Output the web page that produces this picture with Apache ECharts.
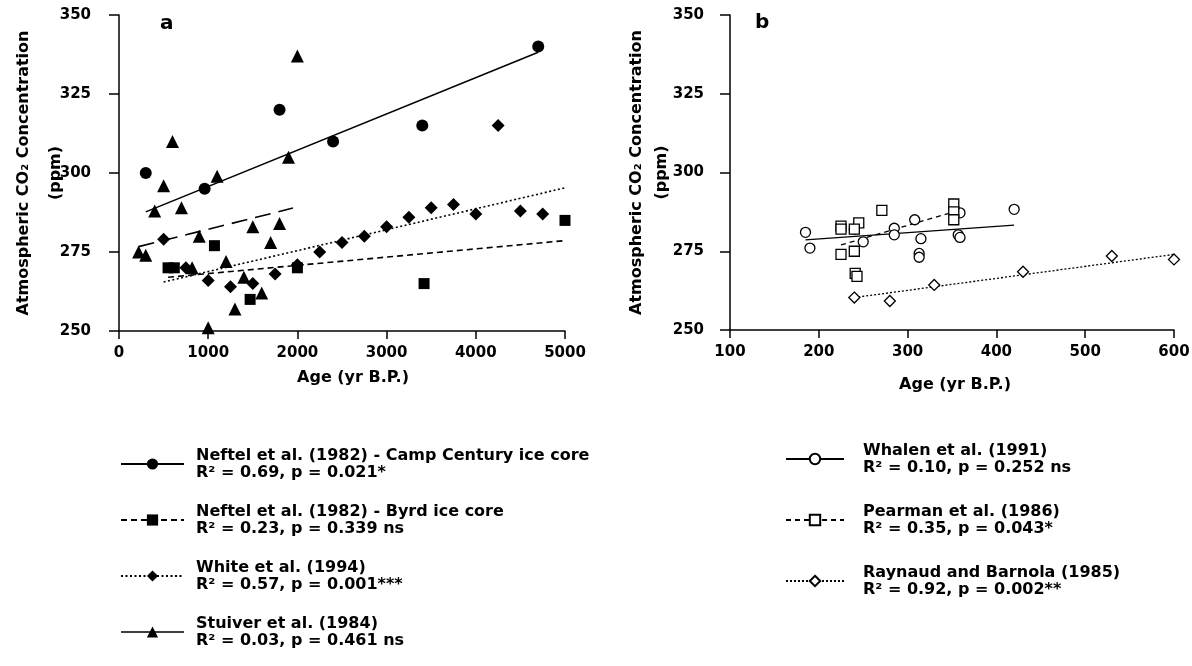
<!DOCTYPE html>
<html><head><meta charset="utf-8">
<script src="https://cdn.jsdelivr.net/npm/echarts@6.0.0/dist/echarts.min.js"></script>
<style>html,body{margin:0;padding:0;background:#fff}#c{width:1192px;height:666px}</style>
</head><body><div id="c"></div>
<script>
// ---- axis ticks ----
const co2Ticks = [250, 275, 300, 325, 350];
const ageTicksA = [0, 1000, 2000, 3000, 4000, 5000];
const ageTicksB = [100, 200, 300, 400, 500, 600];

// ---- panel a data ----
const campAge = [300, 960, 1800, 2400, 3400, 4700];
const campCO2 = [300, 295, 320, 310, 315, 340];
const byrdAge = [550, 620, 1070, 1470, 2000, 3420, 5000];
const byrdCO2 = [270, 270, 277, 260, 270, 265, 285];
const whiteAge = [500, 750, 1000, 1250, 1500, 1750, 2000, 2250, 2500, 2750, 3000, 3250, 3500, 3750, 4000, 4250, 4500, 4750];
const whiteCO2 = [279, 270, 266, 264, 265, 268, 271, 275, 278, 280, 283, 286, 289, 290, 287, 315, 288, 287];
const stuiverAge = [220, 300, 400, 500, 600, 700, 820, 900, 1000, 1100, 1200, 1300, 1400, 1500, 1600, 1700, 1800, 1900, 2000];
const stuiverCO2 = [275, 274, 288, 296, 310, 289, 270, 280, 251, 299, 272, 257, 267, 283, 262, 278, 284, 305, 337];
// regression line end points
const campFit = [[300, 287.7], [4700, 338.2]];
const byrdFit = [[550, 267], [5000, 278.6]];
const whiteFit = [[500, 265.5], [5000, 295.3]];
const stuiverFit = [[220, 276.7], [1950, 288.9]];

// ---- panel b data ----
const whalenAge = [185, 190, 240, 250, 285, 285, 308, 315, 313, 313, 359, 357, 359, 420];
const whalenCO2 = [281, 276, 282, 278, 282.3, 280.2, 285, 279, 274.3, 273.1, 287.2, 280.2, 279.4, 288.3];
const pearmanAge = [225, 225, 245, 271, 240, 225, 240, 241, 243, 352, 352, 352];
const pearmanCO2 = [283, 282, 284, 288, 282, 274, 275, 268, 267, 290, 287.5, 285];
const raynaudAge = [240, 280, 330, 430, 530, 600];
const raynaudCO2 = [260.3, 259.2, 264.3, 268.5, 273.5, 272.4];
const whalenFit = [[185, 278.6], [420, 283.3]];
const pearmanFit = [[225, 277], [358, 288]];
const raynaudFit = [[240, 260.3], [600, 274]];

// ---- legend text ----
const studyA = ['Neftel et al. (1982) - Camp Century ice core', 'Neftel et al. (1982) - Byrd ice core', 'White et al. (1994)', 'Stuiver et al. (1984)'];
const statsA = ['R² = 0.69, p = 0.021*', 'R² = 0.23, p = 0.339 ns', 'R² = 0.57, p = 0.001***', 'R² = 0.03, p = 0.461 ns'];
const studyB = ['Whalen et al. (1991)', 'Pearman et al. (1986)', 'Raynaud and Barnola (1985)'];
const statsB = ['R² = 0.10, p = 0.252 ns', 'R² = 0.35, p = 0.043*', 'R² = 0.92, p = 0.002**'];

const FONT = '"DejaVu Sans", "Liberation Sans", sans-serif';
const zip = (xs, ys) => xs.map((x, i) => [x, ys[i]]);

function xAxisCfg(idx, ticks, gap, pad) {
  return {
    gridIndex: idx, type: 'value', min: ticks[0], max: ticks[ticks.length - 1],
    interval: ticks[1] - ticks[0],
    name: 'Age (yr B.P.)', nameLocation: 'middle', nameGap: gap, nameMoveOverlap: false,
    nameTextStyle: { fontFamily: FONT, fontWeight: 'bold', fontSize: 16, color: '#000', padding: pad },
    axisLine: { onZero: false, lineStyle: { color: '#000', width: 1.5 } },
    axisTick: { show: true, inside: false, length: 8, lineStyle: { color: '#000', width: 1.5 } },
    axisLabel: { fontFamily: FONT, fontWeight: 'bold', fontSize: 15, color: '#000', margin: 15,
      formatter: v => String(v) },
    splitLine: { show: false }
  };
}
function yAxisCfg(idx, gap, lh, margin) {
  return {
    gridIndex: idx, type: 'value', min: co2Ticks[0], max: co2Ticks[co2Ticks.length - 1],
    interval: co2Ticks[1] - co2Ticks[0],
    name: 'Atmospheric CO₂ Concentration\n(ppm)', nameLocation: 'middle', nameRotate: 90, nameGap: gap,
    nameMoveOverlap: false,
    nameTextStyle: { fontFamily: FONT, fontWeight: 'bold', fontSize: 16, color: '#000', lineHeight: lh },
    axisLine: { show: true, onZero: false, lineStyle: { color: '#000', width: 1.5 } },
    axisTick: { show: true, inside: false, length: 10, lineStyle: { color: '#000', width: 1.5 } },
    axisLabel: { fontFamily: FONT, fontWeight: 'bold', fontSize: 15, color: '#000', margin: margin,
      formatter: v => String(v) },
    splitLine: { show: false }
  };
}

const filled = { color: '#000', opacity: 1 };
const hollow = { color: '#fff', borderColor: '#000', borderWidth: 1.3, opacity: 1 };

function pts(name, idx, data, symbol, size, style) {
  return { name: name + ' pts', type: 'scatter', xAxisIndex: idx, yAxisIndex: idx, data: data,
    symbol: symbol, symbolSize: size, itemStyle: style, z: 5, silent: true };
}
function fit(name, idx, data, symbol, lineType, width, style) {
  return { name: name, type: 'line', xAxisIndex: idx, yAxisIndex: idx, data: data,
    symbol: symbol, showSymbol: false, itemStyle: style,
    lineStyle: { color: '#000', width: width, type: lineType, opacity: 1 }, z: 3, silent: true };
}

const series = [
  fit(studyA[0], 0, campFit, 'circle', 'solid', 1.6, filled),
  fit(studyA[1], 0, byrdFit, 'rect', [6, 4], 1.6, filled),
  fit(studyA[2], 0, whiteFit, 'diamond', [2, 2.5], 1.6, filled),
  fit(studyA[3], 0, stuiverFit, 'triangle', [16, 8], 1.6, filled),
  pts(studyA[0], 0, zip(campAge, campCO2), 'circle', 12, filled),
  pts(studyA[1], 0, zip(byrdAge, byrdCO2), 'rect', 11, filled),
  pts(studyA[2], 0, zip(whiteAge, whiteCO2), 'diamond', 13, filled),
  pts(studyA[3], 0, zip(stuiverAge, stuiverCO2), 'triangle', 13, filled),
  fit(studyB[0], 1, whalenFit, 'circle', 'solid', 1.3, hollow),
  fit(studyB[1], 1, pearmanFit, 'rect', [5, 4], 1.3, hollow),
  fit(studyB[2], 1, raynaudFit, 'diamond', [2, 2], 1.3, hollow),
  pts(studyB[0], 1, zip(whalenAge, whalenCO2), 'circle', 10, hollow),
  pts(studyB[1], 1, zip(pearmanAge, pearmanCO2), 'rect', 10, hollow),
  pts(studyB[2], 1, zip(raynaudAge, raynaudCO2), 'diamond', 11, hollow)
];

const legendText = { fontFamily: FONT, fontWeight: 'bold', fontSize: 16, lineHeight: 17, color: '#000' };
const statsMap = {};
studyA.forEach((s, i) => statsMap[s] = statsA[i]);
studyB.forEach((s, i) => statsMap[s] = statsB[i]);

const option = {
  animation: false,
  backgroundColor: '#fff',
  grid: [
    { left: 119, top: 15, width: 446, height: 316, outerBoundsMode: 'none', containLabel: false },
    { left: 730, top: 15, width: 444, height: 315, outerBoundsMode: 'none', containLabel: false }
  ],
  xAxis: [xAxisCfg(0, ageTicksA, 39, [0, 0, 0, 22]), xAxisCfg(1, ageTicksB, 47, [0, 0, 0, 6])],
  yAxis: [yAxisCfg(0, 47, 32, 28), yAxisCfg(1, 56, 25, 26)],
  legend: [
    { orient: 'vertical', left: 115, top: 442, itemGap: 22, itemWidth: 63, itemHeight: 14,
      data: studyA.map((s, i) => i === 3 ? { name: s, lineStyle: { type: 'solid', color: '#000', width: 1.6 } } : { name: s }),
      formatter: n => n + '\n' + statsMap[n],
      textStyle: Object.assign({ padding: [0, 0, 0, 7] }, legendText), selectedMode: false },
    { orient: 'vertical', left: 780, top: 437, itemGap: 27, itemWidth: 58, itemHeight: 13,
      data: studyB.map(s => ({ name: s })),
      formatter: n => n + '\n' + statsMap[n],
      textStyle: Object.assign({ padding: [0, 0, 0, 14] }, legendText), selectedMode: false }
  ],
  graphic: [
    { type: 'text', left: 160, top: 14, style: { text: 'a', font: 'bold 20px "DejaVu Sans"', fill: '#000' } },
    { type: 'text', left: 755, top: 13, style: { text: 'b', font: 'bold 20px "DejaVu Sans"', fill: '#000' } }
  ],
  series: series
};
const chart = echarts.init(document.getElementById('c'), null, { renderer: 'canvas' });
chart.setOption(option);
</script></body></html>
